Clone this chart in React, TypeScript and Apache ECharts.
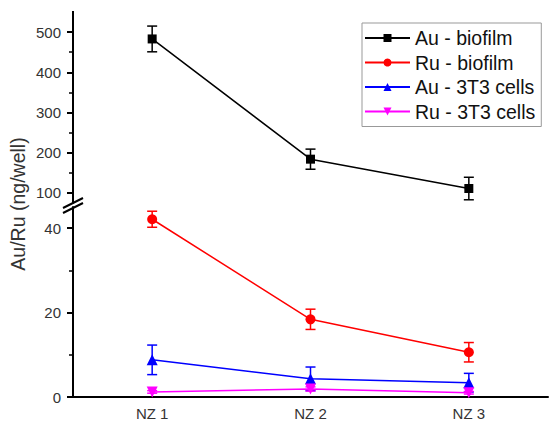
import React, { useEffect, useRef } from "react";
import * as echarts from "echarts";

const categories = ["NZ 1", "NZ 2", "NZ 3"];
const auBiofilm = [483, 184, 111];
const auBiofilmErr = [32, 25, 28];
const ruBiofilm = [42.1, 18.4, 10.6];
const ruBiofilmErr = [1.9, 2.4, 2.3];
const au3T3 = [8.8, 4.3, 3.4];
const au3T3Err = [3.5, 2.8, 2.2];
const ru3T3 = [1.2, 1.9, 1.0];
const ru3T3Err = [0.3, 0.5, 0.3];
const upperTicks = [100, 200, 300, 400, 500];
const upperMinor = [150, 250, 350, 450];
const lowerTicks = [0, 20, 40];
const lowerMinor = [10, 30];

const FONT = "'Liberation Sans', Arial, sans-serif";

function errSeries(vals: number[], errs: number[], color: string, xi: number, yi: number) {
  return {
    type: "custom",
    xAxisIndex: xi,
    yAxisIndex: yi,
    z: 1,
    silent: true,
    encode: { x: 0, y: [1, 2] },
    data: vals.map((v, i) => [i, v - errs[i], v + errs[i]]),
    renderItem: (params: any, api: any) => {
      const x = api.value(0);
      const lo = api.coord([x, api.value(1)]);
      const hi = api.coord([x, api.value(2)]);
      const w = 5;
      const st = { stroke: color, lineWidth: 1.5 };
      return {
        type: "group",
        children: [
          { type: "line", shape: { x1: lo[0], y1: lo[1], x2: hi[0], y2: hi[1] }, style: st },
          { type: "line", shape: { x1: lo[0] - w, y1: lo[1], x2: lo[0] + w, y2: lo[1] }, style: st },
          { type: "line", shape: { x1: hi[0] - w, y1: hi[1], x2: hi[0] + w, y2: hi[1] }, style: st },
        ],
      };
    },
  };
}

// draws the left spine of a grid along its coordinate system edge
function spineSeries(xi: number, yi: number, v: number, extendTop: number, extendBottom: number) {
  return {
    type: "custom",
    xAxisIndex: xi,
    yAxisIndex: yi,
    z: 10,
    silent: true,
    clip: false,
    encode: { x: 0, y: 1 },
    data: [[0, v]],
    renderItem: (params: any) => {
      const cs = params.coordSys;
      return {
        type: "rect",
        shape: { x: cs.x - 1, y: cs.y - extendTop, width: 2, height: cs.height + extendTop + extendBottom },
        style: { fill: "#000" },
      };
    },
  };
}

function lineSeries(name: string, vals: number[], color: string, symbol: string, size: number, xi: number, yi: number, rotate = 0) {
  return {
    name,
    type: "line",
    xAxisIndex: xi,
    yAxisIndex: yi,
    z: 3,
    data: vals,
    symbol,
    symbolSize: size,
    symbolRotate: rotate,
    showAllSymbol: true,
    lineStyle: { color, width: 1.5 },
    itemStyle: { color },
  };
}

export default function App() {
  const ref = useRef<HTMLDivElement>(null);
  useEffect(() => {
    if (!ref.current) return;
    const chart = echarts.init(ref.current, undefined, { renderer: "svg" });
    const labelStyle = { color: "#333", fontSize: 15, fontFamily: FONT };
    const tickStyle = { width: 2, color: "#000" };
    const option: any = {
      animation: false,
      backgroundColor: "#fff",
      grid: [
        { left: 73, right: 1, top: 207, height: 190 },
        { left: 73, right: 1, top: 12, height: 191 },
      ],
      xAxis: [
        {
          type: "category",
          gridIndex: 0,
          data: categories,
          boundaryGap: true,
          axisLine: { lineStyle: { color: "#000", width: 2 } },
          axisTick: { alignWithLabel: true, length: 6, lineStyle: tickStyle },
          axisLabel: { ...labelStyle, margin: 9 },
          splitLine: { show: false },
        },
        { type: "category", gridIndex: 1, data: categories, boundaryGap: true, show: false },
      ],
      yAxis: [
        {
          type: "value",
          gridIndex: 0,
          position: "left",
          min: 0,
          max: 45,
          axisLine: { show: true, onZero: false, lineStyle: { color: "#000", width: 2 } },
          axisTick: { show: true, length: 6, customValues: lowerTicks, lineStyle: tickStyle },
          axisLabel: { ...labelStyle, margin: 12, customValues: lowerTicks },
          splitLine: { show: false },
        },
        {
          type: "value",
          gridIndex: 1,
          position: "left",
          min: 75,
          max: 550,
          axisLine: { show: true, onZero: false, lineStyle: { color: "#000", width: 2 } },
          axisTick: { show: true, length: 6, customValues: upperTicks, lineStyle: tickStyle },
          axisLabel: { ...labelStyle, margin: 12, customValues: upperTicks },
          splitLine: { show: false },
        },
        {
          type: "value",
          gridIndex: 0,
          position: "left",
          offset: 0,
          min: 0,
          max: 45,
          axisLine: { show: false },
          axisTick: { show: true, length: 4, customValues: lowerMinor, lineStyle: { width: 1.5, color: "#000" } },
          axisLabel: { show: false },
          splitLine: { show: false },
        },
        {
          type: "value",
          gridIndex: 1,
          position: "left",
          offset: 0,
          min: 75,
          max: 550,
          axisLine: { show: false },
          axisTick: { show: true, length: 4, customValues: upperMinor, lineStyle: { width: 1.5, color: "#000" } },
          axisLabel: { show: false },
          splitLine: { show: false },
        },
      ],
      legend: {
        left: 362,
        top: 23,
        orient: "vertical",
        data: ["Au - biofilm", "Ru - biofilm", "Au - 3T3 cells", "Ru - 3T3 cells"],
        itemWidth: 45,
        itemHeight: 10,
        itemGap: 0.5,
        padding: [3, 6, 3, 2],
        borderColor: "#999",
        borderWidth: 1,
        borderRadius: 0,
        textStyle: { fontSize: 19.5, color: "#111", fontFamily: FONT, lineHeight: 24 },
        selectedMode: false,
      },
      graphic: [
        {
          type: "text",
          x: 18,
          y: 204,
          rotation: Math.PI / 2,
          style: {
            text: "Au/Ru (ng/well)",
            fontSize: 19.5,
            fontFamily: FONT,
            fill: "#333",
            align: "center",
            verticalAlign: "middle",
          },
        },
        { type: "line", z: 100, shape: { x1: 63, y1: 208, x2: 83, y2: 198 }, style: { stroke: "#000", lineWidth: 2 } },
        { type: "line", z: 100, shape: { x1: 63, y1: 213, x2: 83, y2: 203 }, style: { stroke: "#000", lineWidth: 2 } },
      ],
      series: [
        spineSeries(0, 0, 10, 0, 1),
        spineSeries(1, 1, 300, 1, 0),
        errSeries(auBiofilm, auBiofilmErr, "#000", 1, 1),
        errSeries(ruBiofilm, ruBiofilmErr, "#ff0000", 0, 0),
        errSeries(au3T3, au3T3Err, "#0000ff", 0, 0),
        errSeries(ru3T3, ru3T3Err, "#ff00ff", 0, 0),
        lineSeries("Au - biofilm", auBiofilm, "#000", "rect", 9, 1, 1),
        lineSeries("Ru - biofilm", ruBiofilm, "#ff0000", "circle", 10, 0, 0),
        lineSeries("Au - 3T3 cells", au3T3, "#0000ff", "triangle", 11, 0, 0),
        lineSeries("Ru - 3T3 cells", ru3T3, "#ff00ff", "triangle", 11, 0, 0, 180),
      ],
    };
    chart.setOption(option);
    return () => chart.dispose();
  }, []);
  return (
    <div
      ref={ref}
      style={{ position: "fixed", left: 0, top: 0, width: 549, height: 425, background: "#fff" }}
    />
  );
}
